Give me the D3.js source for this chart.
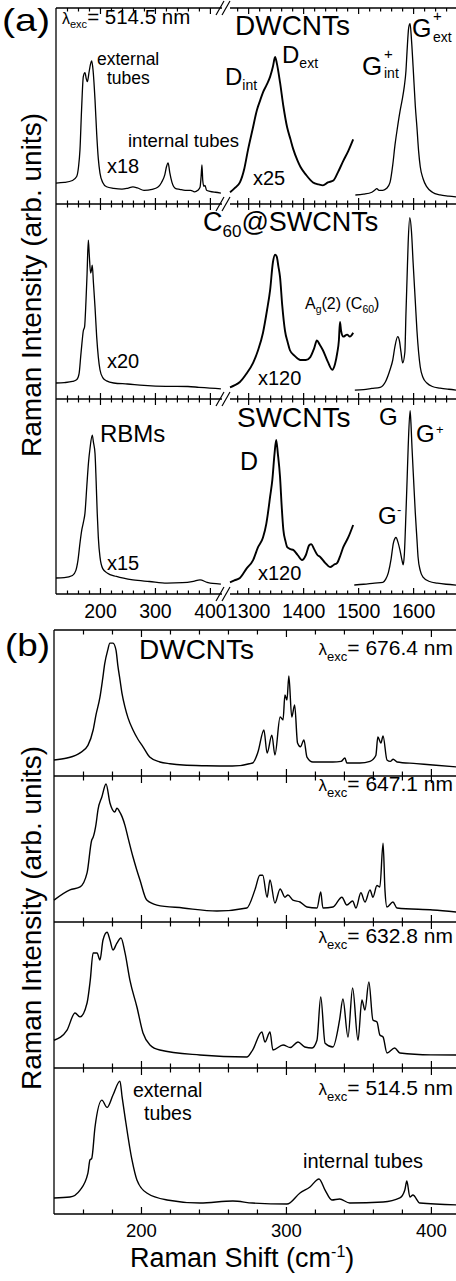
<!DOCTYPE html>
<html>
<head>
<meta charset="utf-8">
<script src="https://cdn.jsdelivr.net/npm/d3@7"></script>
<style>
  html, body { margin: 0; padding: 0; background: #fff; }
  svg { display: block; font-family: "Liberation Sans", Arial, Helvetica, sans-serif; }
</style>
</head>
<body>
<svg id="chart" width="456" height="1281"></svg>
<script>
// ---------- Panel (a): 514.5 nm spectra, [Raman shift cm-1, intensity 0-100] ----------
// DWCNTs
const dwRbm = [[120,10.7],[135,11],[150,12],[157.6,14],[161,19],[163.6,27.6],[166.5,48],[169.7,65],[172.7,67],[175,64],[177,62.4],[180,67],[182.5,71],[185,73],[187.5,68],[191,53],[194,36],[197,23],[200,15.8],[205,11],[212,8.8],[225,8],[240,7.6],[250,8],[260,8.7],[268,8.2],[280,7],[295,7.5],[305,8.5],[312,11],[318,15],[321,19],[324,21],[327,16],[331,11],[337,8],[345,7.5],[355,7],[365,7],[372,6.2],[378,7],[382,8.5],[384,14],[385.5,20],[387,12],[389,9],[391,9.5],[394,7],[400,6.5],[410,6],[420,5.6]];
const dwD = [[1267,6],[1275,8],[1285,11],[1293,18],[1300,28],[1308,38],[1316,48],[1322,53],[1327,57],[1334,61],[1340,65],[1345,70],[1349,75],[1352,72],[1358,62],[1364,50],[1371,39],[1377,33],[1382,28],[1390,22],[1395,19],[1405,15],[1418,11],[1428,10],[1436,9.5],[1445,11],[1455,12],[1463,16],[1473,22],[1482,27],[1491,33]];
const dwG = [[1495,4.6],[1510,5],[1525,6],[1530,7],[1534,7.8],[1538,7],[1545,7],[1552,8],[1558,11],[1563,20],[1567,30],[1571,38],[1576,47],[1580,53],[1584,60],[1587,68],[1589,78],[1592,90],[1594.5,92],[1597,84],[1600,70],[1604,50],[1607,39],[1610,27],[1613,19],[1618,13],[1625,8.7],[1635,6],[1649,4.6],[1665,4],[1678,3.6]];
// C60@SWCNTs
const c60Rbm = [[120,8.2],[135,8.4],[150,9],[158,10],[162,13],[165,22],[167,28],[169.7,35],[172,37],[174.5,50],[176.5,64],[178.8,81.5],[180.5,74],[183,64.6],[184.5,66],[186,68.7],[188,60],[191,47],[194,32],[197,21.5],[200,15],[205,11],[212,9.3],[225,8.2],[250,7.7],[280,7],[320,6.5],[360,6.4],[380,6],[400,5.6],[420,5.2]];
const c60D = [[1267,6],[1275,7],[1285,8.7],[1297,13],[1309,18.5],[1318,25],[1327,34],[1334,45],[1340,56],[1345,70],[1349,74],[1352,73],[1355,68],[1358,62.5],[1362,48],[1367,35],[1372,29],[1376,25],[1385,22],[1395,20],[1405,20],[1413,21.5],[1420,26],[1425,30],[1430,28],[1436,25],[1445,19],[1453,15],[1458,18],[1462,23.6],[1465,30],[1467,39.5],[1469,35],[1473,32],[1480,33],[1485,32],[1491,34]];
const c60G = [[1494,4.6],[1510,4.8],[1525,5.4],[1540,6],[1550,9],[1558,15],[1563,20],[1567,27],[1572,32],[1575,30],[1578,24],[1581,18.5],[1585,24],[1587,44],[1589,62],[1591,80],[1594,93],[1597,86],[1600,70],[1604,50],[1607,35],[1610,24],[1613,16.4],[1618,11],[1625,8.2],[1635,6.4],[1649,5.6],[1665,5],[1678,4.6]];
// SWCNTs
const swRbm = [[120,8.2],[135,8.4],[150,9.5],[156,12],[160,17.4],[164,27],[167,33],[170,37],[172.7,41.5],[176,55],[179,67],[182,75],[186,81.5],[188,78],[191,72],[193,58],[195,41.5],[197,29],[200,19],[205,13],[213,10.8],[230,9],[260,7.2],[290,6.4],[322,5.6],[350,5.8],[370,6.5],[382,7.2],[395,6],[405,5.4],[420,5.1]];
const swD = [[1267,6],[1275,7],[1285,8.2],[1297,13],[1309,17.4],[1318,24],[1327,29],[1333,36],[1336,41.5],[1340,50],[1344,58.5],[1348,72],[1351,79],[1354,72],[1358,60],[1361,45],[1364,33],[1368,27],[1371,24],[1377,23],[1382,22.6],[1390,20],[1398,17.4],[1405,20],[1411,25],[1415,25.6],[1420,23],[1426,20],[1431,19],[1440,16],[1449,13.8],[1456,15],[1462,16],[1468,20],[1473,24],[1482,29],[1491,35.4]];
const swG = [[1493,4.6],[1510,5],[1530,5.6],[1545,6],[1550,7.5],[1555,11],[1560,18],[1564,26],[1567,28.5],[1569,29],[1572,27],[1576,22.6],[1580,17],[1582,15],[1584,20],[1587,41.5],[1589,58],[1591,75],[1594.5,94],[1596,88],[1598,75],[1601,58],[1604,41.5],[1607,28],[1609,19],[1613,12],[1618,8.7],[1630,6.4],[1644,5.6],[1660,5],[1678,4.6]];

// ---------- Panel (b): DWCNT RBM region at four laser lines ----------
const rbm676 = [[140,11],[149,12.3],[158,15.8],[163.4,21],[167,31.5],[169,42],[171.7,54],[173.5,66],[175,77],[177,86],[178.6,91],[180.7,91],[182.8,86],[184,76],[185.5,66],[187,56],[189,47],[191,40],[194.5,31.5],[198,25],[201.4,20],[206,13],[213,9.6],[220,8.4],[229,7.5],[245,7],[263,6.8],[277,8.9],[280.7,16.4],[284.8,31.5],[287,15.8],[290.3,28],[292.4,14.4],[296,40.4],[298,38.4],[299.3,55.5],[300.7,52],[302,68.5],[304,40.4],[306,48.6],[308,22.6],[310,20],[312.4,24.7],[314.5,13],[318.6,9.6],[332.4,9.6],[338,10],[340.7,12.3],[342,8.9],[351,8.9],[358,10],[362,14],[363.4,26.7],[365.5,22.6],[367,27.4],[369.7,11],[372,10],[374,11.5],[376.6,9.6],[390,8.5],[401.4,7.5],[418,6.2]];
const rbm647 = [[140,15],[151,22],[158,24],[162.8,33.6],[166,56],[167,58],[169,67],[170.3,76.7],[173,85.6],[175.9,94.5],[178.6,81.5],[182,75.3],[183.4,78],[185,76],[187,72],[189,66],[191,58],[194.5,44.5],[197,36],[199.3,28.8],[204,15],[211,11.6],[229,9.6],[252.4,7.5],[273,9.6],[278.6,22],[282,32],[284,32],[287,17],[289,28.8],[292.4,13],[296,22.6],[299.3,17],[301.4,18.5],[304.8,15],[309.7,13.7],[314.5,10.3],[321.4,9.6],[324,20.5],[325.5,9.6],[332.4,10.3],[338.6,17],[342,11.6],[346,14.4],[348.3,9.6],[351.7,20],[354.5,13.7],[358,22],[360,17],[362.8,25],[364.8,24],[367,54],[368.3,22],[369.7,10.3],[373.8,13.7],[376.6,9.6],[401.4,8.2],[418,6.8]];
const rbm633 = [[140,19],[149,26],[154.5,37.7],[158,35],[162.8,44.5],[165,60],[167,78.8],[169.7,78.8],[171.7,74],[173.8,87.7],[176.6,93],[178.6,87.7],[180.7,80.8],[183.4,85.6],[186.2,89],[189,78.8],[192.4,60],[197.2,41.8],[201.4,24],[206.2,15.8],[213,12.3],[240.7,8.9],[273,7.5],[277,12.3],[283.4,24.7],[285.5,17.8],[289,24.7],[291,12.3],[298,15.8],[303,14],[308.3,17.8],[313,14.4],[318,13.7],[321.4,19],[324,48.6],[327,17],[332.4,14.4],[337,32.9],[339.3,47.3],[342.8,21.2],[346,54.8],[349.7,19],[352.4,46.6],[354.5,39.7],[357.2,59],[360,32.9],[362.8,31.5],[364.8,22.6],[367,21.2],[369.7,10.3],[375,13.7],[378.6,10.3],[400,9],[418,8.9]];
const rbm514 = [[140,11],[151,11.6],[158,16.4],[163.4,28],[164.8,37],[166,38],[168.3,59.6],[173,78],[176.6,73],[180.7,81.5],[185.5,91],[187,80],[189,66.4],[193.8,37],[197.2,23.3],[204,14.4],[218,9.6],[240.7,7.5],[263.4,8.9],[277,7.5],[300.7,6.8],[309.7,14.4],[316.6,18.5],[322.8,24],[327,16.4],[331.7,9.6],[337,10.3],[344,7.5],[367,8.2],[378.6,11],[382,16.4],[383.4,22.6],[385.5,11.6],[387.6,13],[392.4,7.5],[418,6.2]];

// Tick values
const aMajor1 = [200, 300, 400];
const aMinor1 = [140, 160, 180, 220, 240, 260, 280, 320, 340, 360, 380];
const aMajor2 = [1300, 1400, 1500, 1600];
const aMinor2 = [1280, 1320, 1340, 1360, 1380, 1420, 1440, 1460, 1480, 1520, 1540, 1560, 1580, 1620, 1640, 1660];
const bMajor = [200, 300, 400];
const bMinor = [160, 180, 220, 240, 260, 280, 320, 340, 360, 380];

const svg = d3.select("#chart");
const INK = "#000";

// ---------- helpers ----------
function hline(x1, x2, y, w = 1.3) {
  svg.append("line").attr("x1", x1).attr("x2", x2).attr("y1", y).attr("y2", y)
    .attr("stroke", INK).attr("stroke-width", w);
}
function vline(x, y1, y2, w = 1.3) {
  svg.append("line").attr("x1", x).attr("x2", x).attr("y1", y1).attr("y2", y2)
    .attr("stroke", INK).attr("stroke-width", w);
}
function ticks(scale, y, values, len, dir) {
  const ax = (dir === "down" ? d3.axisBottom(scale) : d3.axisTop(scale))
    .tickValues(values).tickSize(len).tickFormat("");
  const g = svg.append("g").attr("transform", `translate(0,${y})`).call(ax);
  g.select(".domain").remove();
  g.selectAll("line").attr("stroke", INK).attr("stroke-width", 1.2);
}
function tickLabels(scale, y, values, size) {
  const g = svg.append("g").attr("transform", `translate(0,${y})`)
    .call(d3.axisBottom(scale).tickValues(values).tickSize(0).tickPadding(0).tickFormat(d3.format("d")));
  g.select(".domain").remove();
  g.attr("font-family", null).attr("font-size", null);
  g.selectAll("text").attr("dy", null).attr("y", 0).attr("font-size", size).attr("fill", INK);
}
function label(x, y, txt, size, anchor = "start") {
  return svg.append("text").attr("x", x).attr("y", y).attr("font-size", size)
    .attr("text-anchor", anchor).attr("fill", INK).text(txt);
}
// text built from runs: {t, s, dy}
function rich(x, y, parts, anchor = "start") {
  const t = svg.append("text").attr("x", x).attr("y", y).attr("text-anchor", anchor).attr("fill", INK);
  parts.forEach(p => t.append("tspan").attr("font-size", p.s).attr("dy", p.dy || 0).text(p.t));
  return t;
}
function curve(data, xs, ys, w) {
  const line = d3.line().x(d => xs(d[0])).y(d => ys(d[1])).curve(d3.curveMonotoneX);
  svg.append("path").datum(data).attr("d", line)
    .attr("fill", "none").attr("stroke", INK).attr("stroke-width", w)
    .attr("stroke-linejoin", "round");
}

// ---------- Panel (a) ----------
const aLeft = 56, aBreakL = 222, aBreakR = 230, aRight = 456;
const xa1 = d3.scaleLinear().domain([120, 422]).range([aLeft, aBreakL]);
const xa2 = d3.scaleLinear().domain([1267, 1678]).range([aBreakR, aRight]);
const aRows = [[8, 204], [204, 399], [399, 594]];
const aSpectra = [[dwRbm, dwD, dwG], [c60Rbm, c60D, c60G], [swRbm, swD, swG]];

aRows.forEach(([top, bottom], i) => {
  const ya = d3.scaleLinear().domain([0, 100]).range([bottom, top]);
  const [rbm, dband, gband] = aSpectra[i];
  curve(rbm, xa1, ya, 1.3);
  curve(dband, xa2, ya, 1.9);
  curve(gband, xa2, ya, 1.3);
});

// frame lines with axis break
const aEdges = [8, 204, 399, 594];
aEdges.forEach(y => {
  hline(aLeft, aBreakL, y);
  hline(aBreakR, aRight, y);
  svg.append("rect").attr("x", aBreakL).attr("y", y - 2).attr("width", aBreakR - aBreakL).attr("height", 4).attr("fill", "#fff");
  [0, 6].forEach(o => {
    svg.append("line").attr("x1", 216 + o).attr("y1", y + 7).attr("x2", 224 + o).attr("y2", y - 7)
      .attr("stroke", INK).attr("stroke-width", 1.2);
  });
});
vline(aLeft, 8, 594);
aEdges.forEach((y, k) => {
  if (k < aEdges.length - 1) {           // ticks pointing down into the row below
    ticks(xa1, y, aMinor1, 3.5, "down"); ticks(xa1, y, aMajor1, 6, "down");
    ticks(xa2, y, aMinor2, 3.5, "down"); ticks(xa2, y, aMajor2, 6, "down");
  }
  if (k > 0) {                           // ticks pointing up into the row above
    ticks(xa1, y, aMinor1, 3.5, "up"); ticks(xa1, y, aMajor1, 6, "up");
    ticks(xa2, y, aMinor2, 3.5, "up"); ticks(xa2, y, aMajor2, 6, "up");
  }
});
tickLabels(xa1, 618, aMajor1, 19.5);
tickLabels(xa2, 618, aMajor2, 19.5);

// panel (a) annotations
label(2, 31, "(a)", 32).attr("textLength", 48).attr("lengthAdjust", "spacingAndGlyphs");
rich(62, 24, [{ t: "λ", s: 16 }, { t: "exc", s: 11, dy: 4 }, { t: "= 514.5 nm", s: 20.5, dy: -4 }]);
label(235, 35, "DWCNTs", 28);
label(97, 65, "external", 17.5);
label(107, 84, "tubes", 17.5);
label(128, 147, "internal tubes", 18.5);
label(107, 173, "x18", 20);
label(253, 185, "x25", 20);
rich(225, 85, [{ t: "D", s: 24 }, { t: "int", s: 14, dy: 5 }]);
rich(282, 63, [{ t: "D", s: 24 }, { t: "ext", s: 14, dy: 5 }]);
label(362, 75, "G", 26);
label(384, 59, "+", 15);
label(384, 78, "int", 14);
label(412, 37, "G", 25);
label(433, 21, "+", 15);
label(433, 42, "ext", 14);

rich(203, 231, [{ t: "C", s: 27 }, { t: "60", s: 17, dy: 6 }, { t: "@SWCNTs", s: 27, dy: -6 }]);
label(107, 368, "x20", 20);
label(258, 385, "x120", 20);
rich(305, 309, [{ t: "A", s: 16 }, { t: "g", s: 10.5, dy: 4 }, { t: "(2) (C", s: 16, dy: -4 }, { t: "60", s: 10.5, dy: 4 }, { t: ")", s: 16, dy: -4 }]);

label(237, 427, "SWCNTs", 28);
label(100, 442, "RBMs", 24);
label(240, 470, "D", 25);
label(379, 425, "G", 24);
label(416, 442, "G", 24);
label(436, 434, "+", 13);
label(378, 524, "G", 24);
label(397, 514, "-", 13);
label(107, 570, "x15", 20);
label(258, 580, "x120", 20);

svg.append("text").attr("transform", "translate(41,285) rotate(-90)").attr("text-anchor", "middle")
  .attr("font-size", 28).attr("fill", INK).text("Raman Intensity (arb. units)");

// ---------- Panel (b) ----------
const bLeft = 54;
const xb = d3.scaleLinear().domain([140, 418]).range([bLeft, 457]);
const bRows = [[630, 776], [776, 922], [922, 1068], [1068, 1214]];
const bSpectra = [rbm676, rbm647, rbm633, rbm514];
const bLasers = ["= 676.4 nm", "= 647.1 nm", "= 632.8 nm", "= 514.5 nm"];

bRows.forEach(([top, bottom], i) => {
  const yb = d3.scaleLinear().domain([0, 100]).range([bottom, top]);
  curve(bSpectra[i], xb, yb, 1.4);
});
const bEdges = [630, 776, 922, 1068, 1214];
bEdges.forEach((y, k) => {
  hline(bLeft, 456, y);
  if (k < bEdges.length - 1) { ticks(xb, y, bMinor, 4.5, "down"); ticks(xb, y, bMajor, 7, "down"); }
  if (k > 0) { ticks(xb, y, bMinor, 4.5, "up"); ticks(xb, y, bMajor, 7, "up"); }
});
vline(bLeft, 630, 1214);
tickLabels(xb, 1237, bMajor, 18.5);

label(5, 656, "(b)", 32).attr("textLength", 45).attr("lengthAdjust", "spacingAndGlyphs");
label(139, 659, "DWCNTs", 28);
const bLaserY = [655, 791, 943, 1095];
bLasers.forEach((txt, i) => {
  rich(453, bLaserY[i], [{ t: "λ", s: 17 }, { t: "exc", s: 13, dy: 6 }, { t: txt, s: 21, dy: -6 }], "end");
});
label(133, 1097, "external", 19.5);
label(144, 1120, "tubes", 19.5);
label(303, 1168, "internal tubes", 20);

svg.append("text").attr("transform", "translate(41,918) rotate(-90)").attr("text-anchor", "middle")
  .attr("font-size", 28).attr("fill", INK).text("Raman Intensity (arb. units)");

rich(130, 1267, [{ t: "Raman Shift (cm", s: 27 }, { t: "-1", s: 16, dy: -10 }, { t: ")", s: 27, dy: 10 }]);
</script>
</body>
</html>
